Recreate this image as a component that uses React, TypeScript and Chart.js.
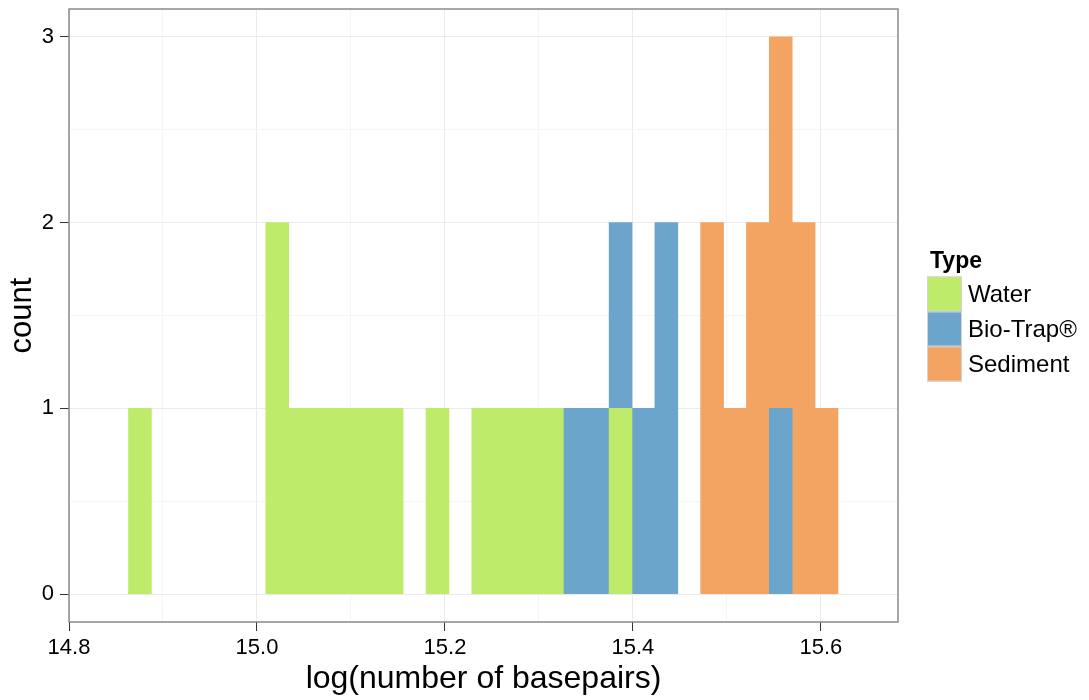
import { useEffect, useRef } from "react";
import { Chart, registerables } from "chart.js";

Chart.register(...registerables);

// Histogram bins on log(number of basepairs): first bin's left edge and common bin width
const BIN_START = 14.8633;
const BIN_WIDTH = 0.02435;

// Counts per bin (31 bins), one array per sample type
const waterCounts = [1, 0, 0, 0, 0, 0, 2, 1, 1, 1, 1, 1, 0, 1, 0, 1, 1, 1, 1, 0, 0, 1, 0, 0, 0, 0, 0, 0, 0, 0, 0];
const bioTrapCounts = [0, 0, 0, 0, 0, 0, 0, 0, 0, 0, 0, 0, 0, 0, 0, 0, 0, 0, 0, 1, 1, 1, 1, 2, 0, 0, 0, 0, 1, 0, 0];
const sedimentCounts = [0, 0, 0, 0, 0, 0, 0, 0, 0, 0, 0, 0, 0, 0, 0, 0, 0, 0, 0, 0, 0, 0, 0, 0, 0, 2, 1, 2, 2, 2, 1];

const typeLabels = ["Water", "Bio-Trap®", "Sediment"];
const typeColors = ["#BEEB69", "#6CA5CC", "#F3A462"];

const X_MIN = 14.8;
const X_MAX = 15.682;
const Y_MIN = -0.15;
const Y_MAX = 3.15;

const FONT = '"Liberation Sans", Arial, Helvetica, sans-serif';

// Bin centres with their counts; empty bins are left out so no zero-height bars are drawn
const toPoints = (counts: number[]) =>
  counts
    .map((c, i) => ({ x: BIN_START + (i + 0.5) * BIN_WIDTH, y: c }))
    .filter((p) => p.y > 0);

const isMajorX = (v: number) => Math.abs(Math.round(v * 10)) % 2 === 0;
const isMajorY = (v: number) => Math.abs(v - Math.round(v)) < 1e-6;

const tickValue = (c: any) => (c && c.tick ? Number(c.tick.value) : NaN);

// Grey frame around the plotting panel
const panelBorder = {
  id: "panelBorder",
  afterDatasetsDraw(chart: any) {
    const { ctx, chartArea: a } = chart;
    ctx.save();
    ctx.strokeStyle = "#8a8a8a";
    ctx.lineWidth = 1.5;
    ctx.strokeRect(a.left, a.top, a.right - a.left, a.bottom - a.top);
    ctx.restore();
  },
};

// Legend with a bold title and stacked square keys to the right of the panel
const typeLegend = {
  id: "typeLegend",
  afterDraw(chart: any) {
    const { ctx, chartArea: a } = chart;
    const x0 = a.right + 29;
    const keySize = 35;
    const top = 276.5;
    ctx.save();
    ctx.fillStyle = "#000";
    ctx.textAlign = "left";
    ctx.textBaseline = "alphabetic";
    ctx.font = `bold 23px ${FONT}`;
    ctx.fillText("Type", x0 + 3, 268);
    ctx.font = `24px ${FONT}`;
    ctx.textBaseline = "middle";
    typeLabels.forEach((label, i) => {
      const y = top + i * keySize;
      ctx.fillStyle = typeColors[i];
      ctx.fillRect(x0, y, keySize, keySize);
      ctx.strokeStyle = "#d4d4d4";
      ctx.lineWidth = 1;
      ctx.strokeRect(x0 + 0.5, y + 0.5, keySize - 1, keySize - 1);
      ctx.fillStyle = "#000";
      ctx.fillText(label, x0 + keySize + 6, y + keySize / 2 + 1);
    });
    ctx.restore();
  },
};

export default function App() {
  const canvasRef = useRef<HTMLCanvasElement | null>(null);

  useEffect(() => {
    document.body.style.margin = "0";
    const canvas = canvasRef.current;
    if (!canvas) return;
    const series = [waterCounts, bioTrapCounts, sedimentCounts];
    const chart = new Chart(canvas, {
      type: "bar",
      data: {
        datasets: series.map((counts, i) => ({
          label: typeLabels[i],
          data: toPoints(counts),
          backgroundColor: typeColors[i],
          borderWidth: 0,
          categoryPercentage: 1,
          barPercentage: 1,
        })),
      },
      plugins: [panelBorder, typeLegend],
      options: {
        responsive: false,
        animation: false,
        devicePixelRatio: 1,
        layout: { padding: { left: 0, top: 9, right: 191, bottom: 0 } },
        plugins: {
          legend: { display: false },
          tooltip: { enabled: false },
        },
        scales: {
          x: {
            type: "linear",
            stacked: true,
            offset: false,
            min: X_MIN,
            max: X_MAX,
            afterFit: (s: any) => {
              s.height = 78;
              s.paddingLeft = 0;
              s.paddingRight = 0;
            },
            border: { display: false },
            grid: {
              offset: false,
              color: (c: any) => (isMajorX(tickValue(c)) ? "#EBEBEB" : "#F5F5F5"),
              lineWidth: 1,
              tickLength: 9,
              tickColor: (c: any) => (isMajorX(tickValue(c)) ? "#333333" : "rgba(0,0,0,0)"),
            },
            ticks: {
              stepSize: 0.1,
              includeBounds: false,
              autoSkip: false,
              maxRotation: 0,
              padding: 4,
              color: "#000",
              font: { family: FONT, size: 22 },
              callback: (v: any) => (isMajorX(Number(v)) ? Number(v).toFixed(1) : ""),
            },
            title: {
              display: true,
              text: "log(number of basepairs)",
              color: "#000",
              font: { family: FONT, size: 32 },
              padding: { top: 0, bottom: 2 },
            },
          },
          y: {
            stacked: true,
            min: Y_MIN,
            max: Y_MAX,
            afterFit: (s: any) => {
              s.width = 69;
              s.paddingTop = 0;
              s.paddingBottom = 0;
            },
            border: { display: false },
            grid: {
              color: (c: any) => (isMajorY(tickValue(c)) ? "#EBEBEB" : "#F5F5F5"),
              lineWidth: 1,
              tickLength: 9,
              tickColor: (c: any) => (isMajorY(tickValue(c)) ? "#333333" : "rgba(0,0,0,0)"),
            },
            ticks: {
              stepSize: 0.5,
              includeBounds: false,
              autoSkip: false,
              padding: 6,
              color: "#000",
              font: { family: FONT, size: 22 },
              callback: (v: any) => (isMajorY(Number(v)) ? String(Math.round(Number(v))) : ""),
            },
            title: {
              display: true,
              text: "count",
              color: "#000",
              font: { family: FONT, size: 31 },
              padding: { top: 4, bottom: 0 },
            },
          },
        },
      } as any,
    });
    return () => chart.destroy();
  }, []);

  return (
    <div style={{ position: "fixed", left: 0, top: 0, width: 1089, height: 700, background: "#fff" }}>
      <canvas ref={canvasRef} width={1089} height={700} style={{ width: 1089, height: 700 }} />
    </div>
  );
}
